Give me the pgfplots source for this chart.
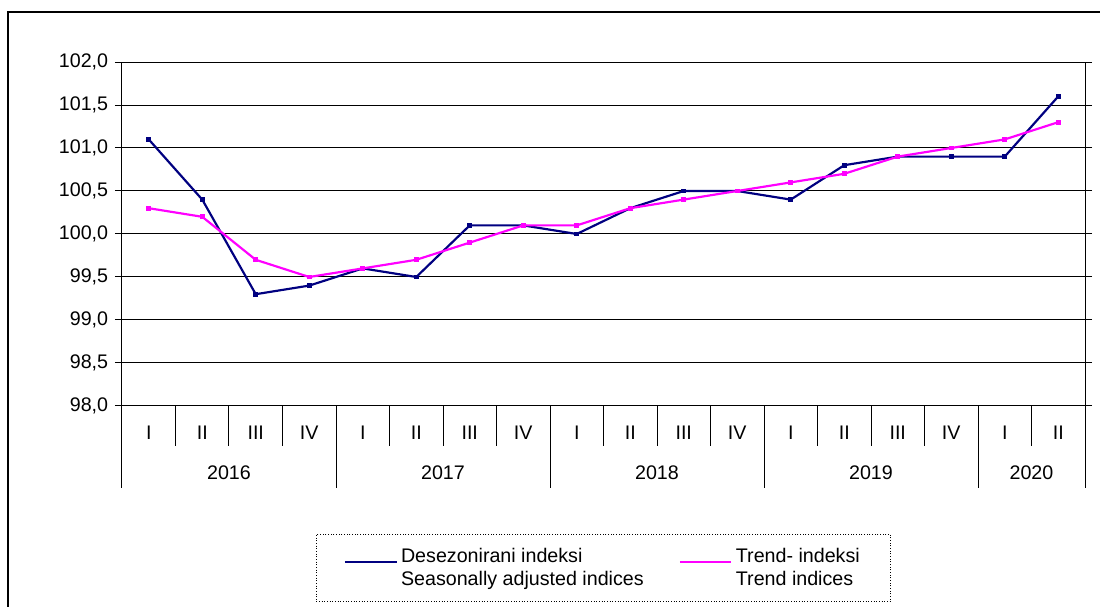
\documentclass[border=0pt]{standalone}
\usepackage{fontspec}
\setmainfont{Liberation Sans}
\usepackage{pgfplots}
\pgfplotsset{compat=1.18}
\definecolor{navyc}{RGB}{0,0,128}
\definecolor{magc}{RGB}{255,0,255}
\pgfplotstableread{
x desez trend
0.5 101.1 100.3
1.5 100.4 100.2
2.5 99.3 99.7
3.5 99.4 99.5
4.5 99.6 99.6
5.5 99.5 99.7
6.5 100.1 99.9
7.5 100.1 100.1
8.5 100.0 100.1
9.5 100.3 100.3
10.5 100.5 100.4
11.5 100.5 100.5
12.5 100.4 100.6
13.5 100.8 100.7
14.5 100.9 100.9
15.5 100.9 101.0
16.5 100.9 101.1
17.5 101.6 101.3
}\datatable
\begin{document}
\fontsize{11.8pt}{14pt}\selectfont
\begin{tikzpicture}[x=0.6pt,y=0.6pt]
\useasboundingbox (0,0) rectangle (1100,607);
\draw[line width=0.8pt] (8,-20) -- (8,595) -- (1120,595);
\begin{axis}[
  at={(73.2pt,120.6pt)}, anchor=south west,
  scale only axis, width=577.8pt, height=206.4pt,
  xmin=0, xmax=18, ymin=98, ymax=102,
  ytick={98,98.5,99,99.5,100,100.5,101,101.5,102},
  ymajorgrids, grid style={black, line width=0.6pt},
  axis line style={black, line width=0.6pt},
  xtick={0.5,1.5,...,17.5},
  xticklabels={I,II,III,IV,I,II,III,IV,I,II,III,IV,I,II,III,IV,I,II},
  x tick style={draw=none},
  y tick style={black, line width=0.6pt},
  tick align=outside, major tick length=4.2pt,
  xticklabel style={anchor=base, yshift=-22.2pt+6pt},
  yticklabel style={/pgf/number format/.cd, fixed, fixed zerofill, precision=1, use comma},
  /pgf/number format/assume math mode=true,
  tick label style={font=\fontsize{11.8pt}{14pt}\selectfont},
  clip=false,
  legend columns=2,
  legend style={at={(0.5,-0.372)}, anchor=north, draw=black, densely dotted, line width=0.6pt,
    inner xsep=16.5pt, inner ysep=6pt,
    cells={align=left, solid},
    font=\fontsize{11.8pt}{13.8pt}\selectfont,
    /tikz/every even column/.append style={column sep=19pt}},
  legend image code/.code={\draw[#1, solid, mark=none, line width=1.3pt] (0pt,0.3em) -- (31pt,0.3em);},
]
\addplot[navyc, line width=1.3pt, mark=square*, mark size=0.8pt] table[x=x, y=desez] {\datatable};
\addlegendentry{Desezonirani indeksi\\Seasonally adjusted indices}
\addplot[magc, line width=1.3pt, mark=square*, mark size=0.8pt] table[x=x, y=trend] {\datatable};
\addlegendentry{Trend- indeksi\\Trend indices}
\pgfplotsinvokeforeach{1,2,3,5,6,7,9,10,11,13,14,15,17}{
  \draw[black, line width=0.6pt] (axis cs:#1,98) -- ++(0pt,-24pt);
}
\pgfplotsinvokeforeach{0,4,8,12,16,18}{
  \draw[black, line width=0.6pt] (axis cs:#1,98) -- ++(0pt,-49.2pt);
}
\node[anchor=base] at (axis cs:2,98) [yshift=-44.4pt] {2016};
\node[anchor=base] at (axis cs:6,98) [yshift=-44.4pt] {2017};
\node[anchor=base] at (axis cs:10,98) [yshift=-44.4pt] {2018};
\node[anchor=base] at (axis cs:14,98) [yshift=-44.4pt] {2019};
\node[anchor=base] at (axis cs:17,98) [yshift=-44.4pt] {2020};
\end{axis}
\end{tikzpicture}
\end{document}
